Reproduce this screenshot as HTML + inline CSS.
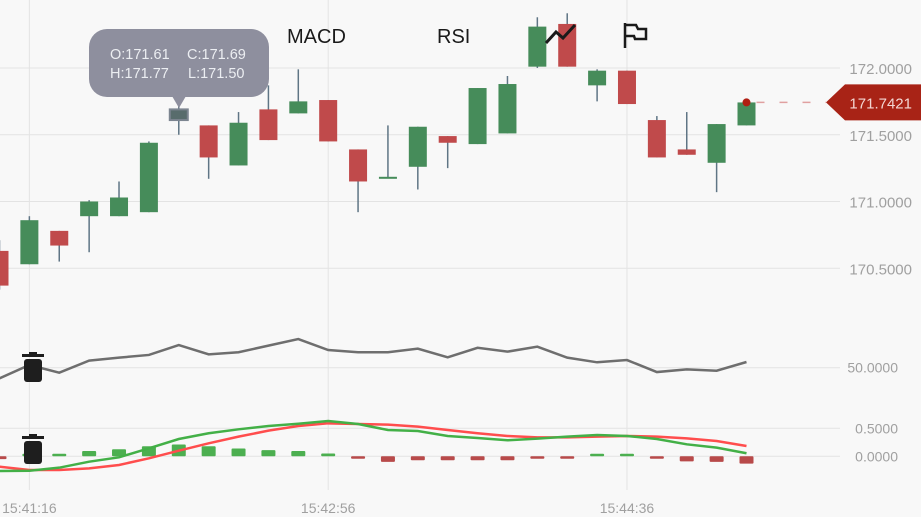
<!DOCTYPE html>
<html><head><meta charset="utf-8"><style>
html,body{margin:0;padding:0;background:#f8f8f8;}
svg{display:block;font-family:"Liberation Sans",sans-serif;}
</style></head><body>
<svg id="chart" width="921" height="517" viewBox="0 0 921 517">
<rect width="921" height="517" fill="#f8f8f8"/>
<g id="grid"></g><g id="candles"></g><g id="rsi"></g><g id="macd"></g><g id="overlay"></g>
</svg>
<script>
const opens  = [170.63,170.53,170.78,170.89,170.89,170.92,171.61,171.57,171.27,171.69,171.66,171.76,171.39,171.18,171.26,171.49,171.43,171.51,172.01,172.33,171.87,171.98,171.61,171.39,171.29,171.57];
const highs  = [170.71,170.89,170.78,171.01,171.15,171.45,171.77,171.57,171.67,171.87,171.99,171.76,171.39,171.57,171.56,171.49,171.85,171.94,172.38,172.41,171.99,171.98,171.64,171.67,171.58,171.7421];
const lows   = [170.34,170.53,170.55,170.62,170.89,170.92,171.50,171.17,171.27,171.46,171.66,171.45,170.92,171.18,171.09,171.25,171.43,171.51,172.00,172.01,171.75,171.73,171.33,171.35,171.07,171.57];
const closes = [170.37,170.86,170.67,171.00,171.03,171.44,171.69,171.33,171.59,171.46,171.75,171.45,171.15,171.185,171.56,171.44,171.85,171.88,172.31,172.01,171.98,171.73,171.33,171.35,171.58,171.7421];
const rsiValues = [42.9,51.8,46.7,54.7,56.7,58.5,65.1,58.9,60.3,64.7,69.1,61.8,60.3,60.3,62.7,56.9,63.3,60.7,64,56.7,53.6,55.1,47.1,48.9,48,53.8];
const difValues = [-0.263,-0.257,-0.203,-0.096,-0.018,0.143,0.309,0.411,0.482,0.541,0.582,0.630,0.577,0.470,0.452,0.363,0.327,0.286,0.315,0.351,0.381,0.363,0.309,0.214,0.155,0.054];
const deaValues = [-0.185,-0.244,-0.244,-0.215,-0.155,-0.036,0.1,0.232,0.351,0.458,0.541,0.589,0.577,0.565,0.530,0.470,0.411,0.363,0.339,0.339,0.351,0.363,0.351,0.321,0.273,0.184];
const histValues = [-0.05,0.01,0.03,0.095,0.125,0.18,0.21,0.18,0.14,0.11,0.095,0.05,-0.01,-0.1,-0.07,-0.07,-0.07,-0.07,-0.01,-0.01,0.03,0.005,-0.015,-0.09,-0.1,-0.13];
const priceTicks = [172.0,171.5,171.0,170.5];
const timeLabels = ["15:41:16","15:42:56","15:44:36"];
const timeIndex = [1,11,21];
const lastPrice = 171.7421;

const NS="http://www.w3.org/2000/svg";
function mk(tag,attrs,parent){const e=document.createElementNS(NS,tag);for(const k in attrs)e.setAttribute(k,attrs[k]);parent.appendChild(e);return e;}
const xOf=i=>-0.5+29.88*i;
const yP=p=>68+(172-p)*133.5;
const yR=v=>367.7-(v-50)*1.5;
const yM=v=>456.3-v*56;
const grid=document.getElementById('grid');
const GRIDC="#e3e3e3", LBL="#a0a0a0";
priceTicks.forEach((t,k)=>{
  const y=yP(t);
  const l=mk('line',{x1:0,x2:840,y1:y,y2:y,stroke:GRIDC,'stroke-width':1},grid);
  
  const tx=mk('text',{x:912,y:y+6,'text-anchor':'end','font-size':15,fill:LBL},grid);
  tx.textContent=t.toFixed(4);
  
});
[[yR(50),"50.0000"],[yM(0.5),"0.5000"],[yM(0),"0.0000"]].forEach(([y,s])=>{
  const l=mk('line',{x1:0,x2:840,y1:y,y2:y,stroke:GRIDC,'stroke-width':1},grid);
  
  const tx=mk('text',{x:898,y:y+5,'text-anchor':'end','font-size':14,fill:LBL},grid);
  tx.textContent=s;
  
});
timeIndex.forEach((ti,k)=>{
  const x=xOf(ti);
  const l=mk('line',{x1:x,x2:x,y1:0,y2:490,stroke:GRIDC,'stroke-width':1},grid);
  
  const tx=mk('text',{x:x,y:513,'text-anchor':'middle','font-size':14,fill:LBL},grid);
  tx.textContent=timeLabels[k];
  
});
const cg=document.getElementById('candles');
opens.forEach((o,i)=>{
  const c=closes[i],x=xOf(i),up=c>=o;
  const col=up?"#468c5a":"#c04a4b";
  const w=mk('line',{x1:x,x2:x,y1:yP(highs[i]),y2:yP(lows[i]),stroke:"#5f7585",'stroke-width':1.5},cg);
  
  const top=yP(Math.max(o,c)),h=Math.max(2,Math.abs(yP(o)-yP(c)));
  const r=mk('rect',{x:x-9,y:top,width:18,height:h,fill:i===6?"#586c6c":col},cg);
  if(i===6){r.setAttribute('stroke','#7c8590');r.setAttribute('stroke-width','2');}
  
});
const rg=document.getElementById('rsi');
const rl=mk('polyline',{points:rsiValues.map((v,i)=>xOf(i)+','+yR(v)).join(' '),fill:'none',stroke:'#6e6e6e','stroke-width':2.5},rg);

const mg=document.getElementById('macd');
histValues.forEach((v,i)=>{
  const x=xOf(i),y0=yM(0),y1=yM(v);
  const h=Math.max(2.5,Math.abs(y1-y0));
  const r=mk('rect',{x:x-7,y:v>=0?y0-h:y0,width:14,height:h,rx:1,fill:v>=0?"#4caf50":"#b84a4a"},mg);
  
});
const dea=mk('polyline',{points:deaValues.map((v,i)=>xOf(i)+','+yM(v)).join(' '),fill:'none',stroke:'#ff4d4d','stroke-width':2.5},mg);

const dif=mk('polyline',{points:difValues.map((v,i)=>xOf(i)+','+yM(v)).join(' '),fill:'none',stroke:'#43b047','stroke-width':2.5},mg);

const ov=document.getElementById('overlay');
const ly=yP(lastPrice),lx=xOf(opens.length-1);
const dl=mk('line',{x1:lx+10,x2:826,y1:ly,y2:ly,stroke:'#e0a0a0','stroke-width':1.5,'stroke-dasharray':'8,15'},ov);

const dot=mk('circle',{cx:lx,cy:ly,r:4,fill:'#b01e12'},ov);

const tag=mk('polygon',{points:`826,${ly} 845,${ly-18} 921,${ly-18} 921,${ly+18} 845,${ly+18}`,fill:'#a82316'},ov);

const tt=mk('text',{x:912,y:ly+6,'text-anchor':'end','font-size':15,fill:'#f3d6d2'},ov);
tt.textContent=lastPrice.toFixed(4);

</script>
<svg width="921" height="517" style="position:absolute;left:0;top:0">
<g>
<rect x="89" y="29" width="180" height="68" rx="18" fill="#8e8f9e"/>
<polygon points="172,96 186,96 179,108" fill="#8e8f9e"/>
<text x="110" y="59" font-size="14.5" fill="#eceef2" font-family="Liberation Sans,sans-serif">O:171.61</text>
<text x="187" y="59" font-size="14.5" fill="#eceef2" font-family="Liberation Sans,sans-serif">C:171.69</text>
<text x="110" y="78" font-size="14.5" fill="#eceef2" font-family="Liberation Sans,sans-serif">H:171.77</text>
<text x="188" y="78" font-size="14.5" fill="#eceef2" font-family="Liberation Sans,sans-serif">L:171.50</text>
</g>
<text x="287" y="43" font-size="20" fill="#1a1a1a" font-family="Liberation Sans,sans-serif">MACD</text>
<text x="437" y="43" font-size="20" fill="#1a1a1a" font-family="Liberation Sans,sans-serif">RSI</text>
<polyline points="546,43 556,32 563,38 575,25" fill="none" stroke="#1a1a1a" stroke-width="3"/>
<g fill="none" stroke="#1a1a1a" stroke-width="2.5">
<line x1="625" y1="23" x2="625" y2="48"/>
<polyline points="625,25 636,25 638,29 646,29 646,39 635,39 634,36 625,36"/>
</g>
<g fill="#1e1e1e">
<rect x="22" y="354" width="22" height="3"/><rect x="29" y="352" width="8" height="3"/>
<rect x="24" y="359" width="18" height="23" rx="3"/>
</g>
<g fill="#1e1e1e">
<rect x="22" y="436" width="22" height="3"/><rect x="29" y="434" width="8" height="3"/>
<rect x="24" y="441" width="18" height="23" rx="3"/>
</g>
</svg>
</body></html>
